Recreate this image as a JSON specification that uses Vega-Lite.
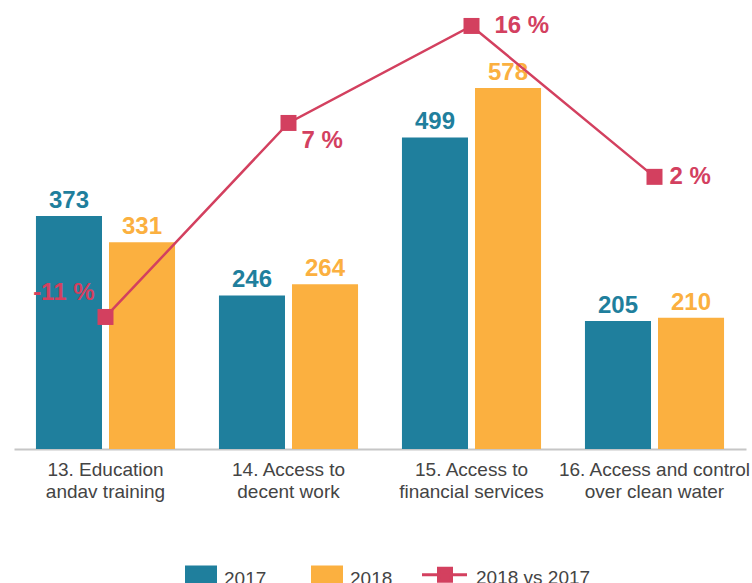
{
  "$schema": "https://vega.github.io/schema/vega-lite/v6.json",
  "width": 732,
  "height": 439,
  "padding": {"left": 14, "top": 10, "right": 0, "bottom": 0},
  "autosize": {"type": "pad"},
  "background": "white",
  "config": {"view": {"stroke": null}, "font": "Liberation Sans"},
  "datasets": {
    "bars": [
      {"category": "13. Education\nandav training", "year": "2017", "value": 373},
      {"category": "13. Education\nandav training", "year": "2018", "value": 331},
      {"category": "14. Access to\ndecent work", "year": "2017", "value": 246},
      {"category": "14. Access to\ndecent work", "year": "2018", "value": 264},
      {"category": "15. Access to\nfinancial services", "year": "2017", "value": 499},
      {"category": "15. Access to\nfinancial services", "year": "2018", "value": 578},
      {"category": "16. Access and control\nover clean water", "year": "2017", "value": 205},
      {"category": "16. Access and control\nover clean water", "year": "2018", "value": 210}
    ],
    "change": [
      {"category": "13. Education\nandav training", "change": -11},
      {"category": "14. Access to\ndecent work", "change": 7},
      {"category": "15. Access to\nfinancial services", "change": 16},
      {"category": "16. Access and control\nover clean water", "change": 2}
    ]
  },
  "encoding": {
    "x": {
      "field": "category",
      "type": "nominal",
      "sort": null,
      "scale": {"paddingInner": 0.24, "paddingOuter": 0.12},
      "axis": {
        "title": null,
        "labelExpr": "split(datum.label, '\\n')",
        "labelAngle": 0,
        "labelFontSize": 19,
        "labelColor": "#444444",
        "labelLineHeight": 22,
        "labelPadding": 11,
        "labelBaseline": "top",
        "labelLimit": 0,
        "ticks": false,
        "domainColor": "#c6c6c6",
        "domainWidth": 2
      }
    }
  },
  "layer": [
    {
      "data": {"name": "bars"},
      "encoding": {
        "xOffset": {"field": "year", "type": "nominal", "scale": {"paddingInner": 0.0959, "paddingOuter": 0}},
        "y": {"field": "value", "type": "quantitative", "scale": {"domain": [0, 703], "nice": false}, "axis": null},
        "color": {
          "field": "year",
          "type": "nominal",
          "scale": {"domain": ["2017", "2018", "2018 vs 2017"], "range": ["#1f7f9d", "#fbb040", "#d3405f"]},
          "legend": {
            "title": null,
            "orient": "none",
            "legendX": 169.5,
            "legendY": 553,
            "direction": "horizontal",
            "padding": 0,
            "symbolSize": 1024,
            "symbolStrokeWidth": 0,
            "labelFontSize": 19,
            "labelColor": "#444444",
            "labelOffset": 5.5,
            "columnPadding": 23,
            "encode": {
              "symbols": {
                "update": {
                  "shape": {"signal": "datum.value === '2018 vs 2017' ? 'M-1.9375,-1L-1.9375,-1M-1.9375,1L-1.9375,1M-1.9375,-0.375H0.875M-0.906,-0.78H-0.094V0.03H-0.906Z' : 'M-1.9375,0L-1.9375,0M-0.906,-0.906H0.906V0.906H-0.906Z'"},
                  "stroke": {"signal": "scale('color', datum.value)"},
                  "strokeWidth": {"value": 3},
                  "fill": {"signal": "scale('color', datum.value)"},
                  "opacity": {"value": 1},
                  "fillOpacity": {"value": 1}
                }
              },
              "labels": {
                "update": {"dy": {"value": -3}}
              }
            }
          }
        }
      },
      "layer": [
        {"mark": {"type": "bar"}},
        {
          "mark": {"type": "text", "fontSize": 24, "fontWeight": "bold", "baseline": "alphabetic", "dy": -8},
          "encoding": {"text": {"field": "value", "type": "quantitative"}}
        }
      ]
    },
    {
      "data": {"name": "change"},
      "encoding": {
        "y": {"field": "change", "type": "quantitative", "scale": {"domain": [-23.25, 17.48], "nice": false, "zero": false}, "axis": null}
      },
      "layer": [
        {
          "mark": {"type": "line", "strokeWidth": 2.5, "color": "#d3405f"},
          "encoding": {"color": {"datum": "2018 vs 2017"}}
        },
        {
          "mark": {"type": "point", "shape": "square", "filled": true, "size": 256, "opacity": 1},
          "encoding": {"color": {"datum": "2018 vs 2017"}}
        },
        {
          "transform": [{"filter": "datum.change === 16"}],
          "mark": {"type": "text", "fontSize": 24, "fontWeight": "bold", "color": "#d3405f", "align": "left", "baseline": "middle", "dx": 23, "text": {"expr": "datum.change + ' %'"}}
        },
        {
          "transform": [{"filter": "datum.change === 2"}],
          "mark": {"type": "text", "fontSize": 24, "fontWeight": "bold", "color": "#d3405f", "align": "left", "baseline": "middle", "dx": 15, "text": {"expr": "datum.change + ' %'"}}
        },
        {
          "transform": [{"filter": "datum.change === 7"}],
          "mark": {"type": "text", "fontSize": 24, "fontWeight": "bold", "color": "#d3405f", "align": "left", "baseline": "middle", "dx": 13, "dy": 18, "text": {"expr": "datum.change + ' %'"}}
        },
        {
          "transform": [{"filter": "datum.change === -11"}],
          "mark": {"type": "text", "fontSize": 24, "fontWeight": "bold", "color": "#d3405f", "align": "right", "baseline": "middle", "dx": -11, "dy": -24, "text": {"expr": "datum.change + ' %'"}}
        }
      ]
    }
  ],
  "resolve": {"scale": {"y": "independent"}}
}
